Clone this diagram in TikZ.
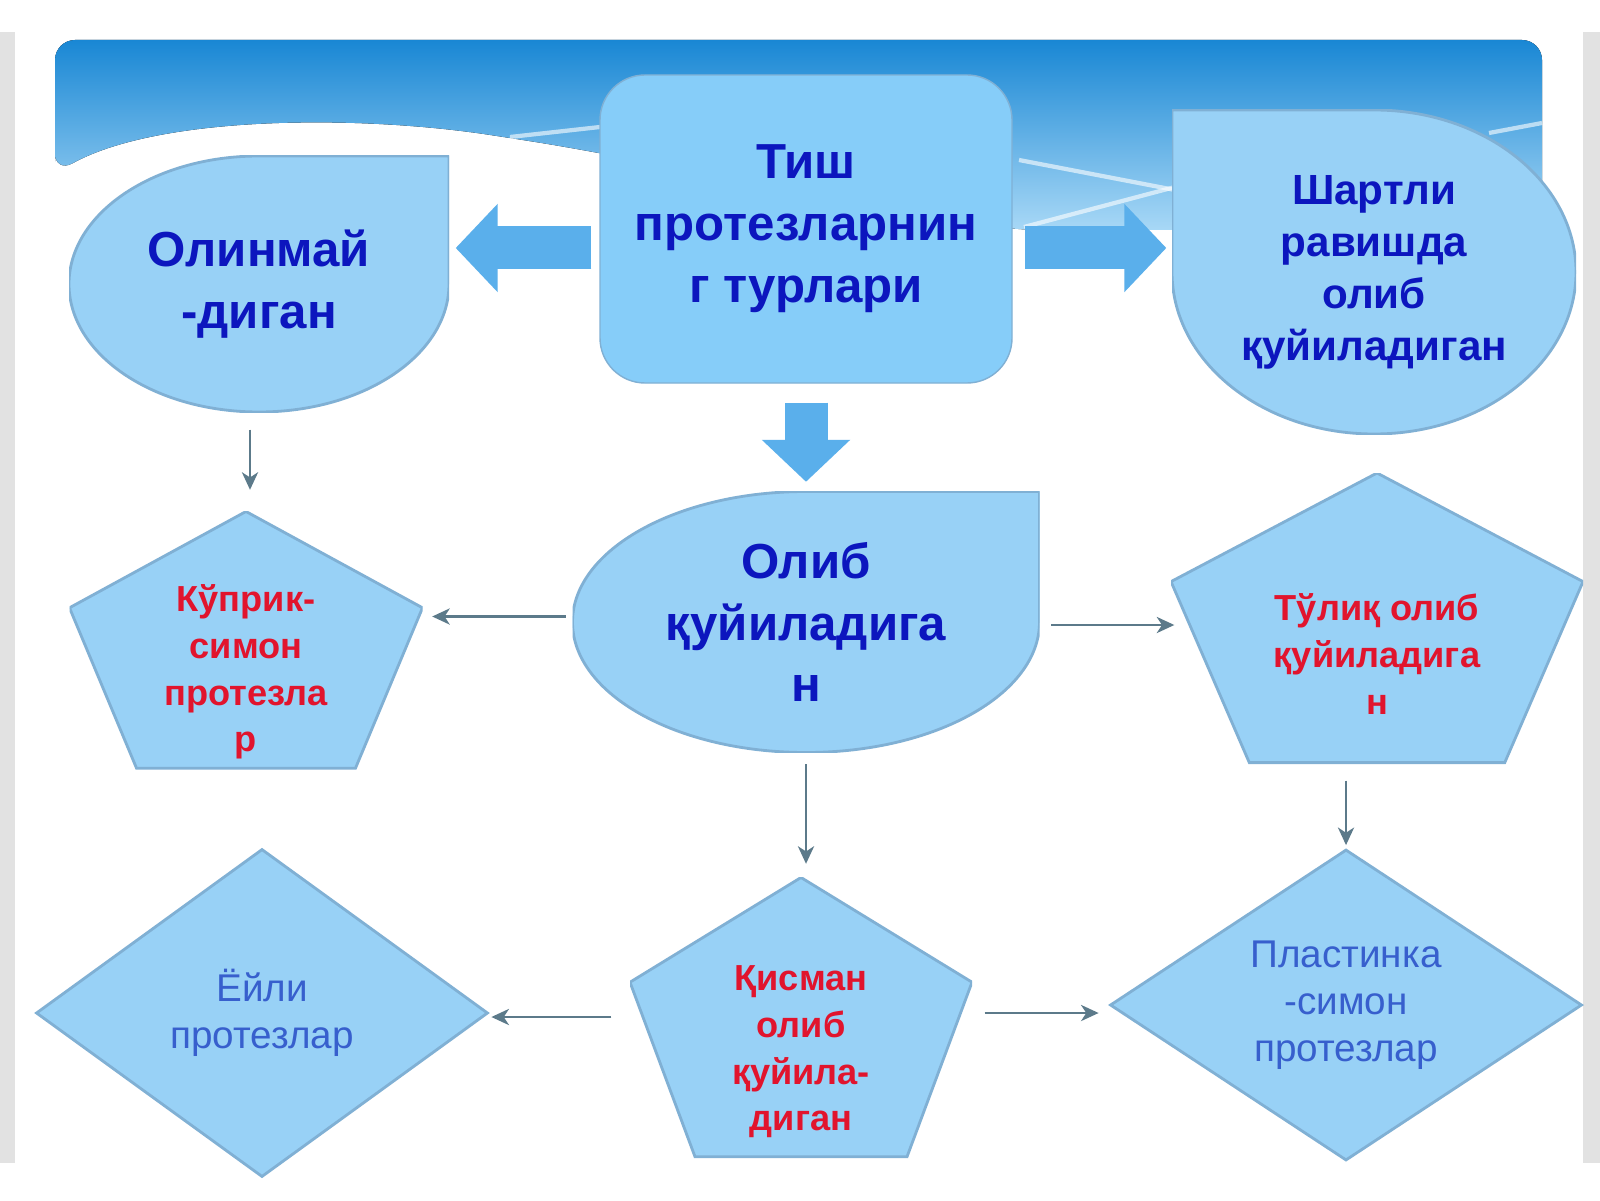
\documentclass[tikz,border=0pt]{standalone}
\usepackage{fontspec}
\setmainfont{Liberation Sans}
\usepackage{tikz}
\usetikzlibrary{positioning}
\usetikzlibrary{shapes.geometric, arrows.meta, calc}

\definecolor{boxfill}{RGB}{152,209,246}
\definecolor{tishfill}{RGB}{134,205,249}
\definecolor{edgecol}{RGB}{128,176,212}
\definecolor{arrowcol}{RGB}{90,175,235}
\definecolor{linecol}{RGB}{92,122,138}
\definecolor{bluetext}{RGB}{12,22,190}
\definecolor{redtext}{RGB}{225,20,45}
\definecolor{softblue}{RGB}{55,95,205}
\definecolor{sidegrey}{RGB}{226,226,226}
\definecolor{bantop}{RGB}{25,135,212}
\definecolor{banbot}{RGB}{168,216,246}

\begin{document}
\begin{tikzpicture}[node distance=2cm]
\tikzstyle{tishbox} = [rectangle, draw=edgecol, fill=tishfill, rounded corners=0.45cm, minimum width=4.12cm, minimum height=3.08cm, inner sep=0pt]
\tikzstyle{drop} = [rectangle, inner sep=0pt, path picture={
  \filldraw[fill=boxfill, draw=edgecol, line width=0.8pt]
  let \p1=(path picture bounding box.north east), \p2=(path picture bounding box.center) in
  (\x2,\y1) -- (\x1,\y1) -- (\x1,\y2) arc[start angle=0, end angle=-270, x radius=\x1-\x2, y radius=\y1-\y2] -- cycle;}]
\tikzstyle{dropl} = [rectangle, inner sep=0pt, path picture={
  \filldraw[fill=boxfill, draw=edgecol, line width=0.8pt]
  let \p1=(path picture bounding box.north west), \p2=(path picture bounding box.center) in
  (\x2,\y1) -- (\x1,\y1) -- (\x1,\y2) arc[start angle=180, end angle=450, x radius=\x2-\x1, y radius=\y1-\y2] -- cycle;}]
\tikzstyle{pent} = [rectangle, inner sep=0pt, path picture={
  \filldraw[fill=boxfill, draw=edgecol, line width=0.8pt]
  let \p1=(path picture bounding box.south west), \p2=(path picture bounding box.north east) in
  ({0.5*\x1+0.5*\x2},\y2) -- (\x2,{0.3*\y1+0.7*\y2}) -- ({0.19*\x1+0.81*\x2},{0.8*\y1+0.2*\y2})
  -- ({0.81*\x1+0.19*\x2},{0.8*\y1+0.2*\y2}) -- (\x1,{0.3*\y1+0.7*\y2}) -- cycle;}]
\tikzstyle{diamondbox} = [diamond, aspect=1.4, draw=edgecol, line width=0.8pt, fill=boxfill, inner sep=0pt]
\tikzstyle{bluebig} = [text=bluetext, font=\fontsize{14}{17.6}\selectfont\bfseries, align=center]
\tikzstyle{bluemid} = [text=bluetext, font=\fontsize{12}{14.8}\selectfont\bfseries, align=center]
\tikzstyle{redtxt} = [text=redtext, font=\fontsize{10.3}{13.3}\selectfont\bfseries, align=center]
\tikzstyle{softtxt} = [text=softblue, font=\fontsize{11}{13.4}\selectfont, align=center]
\tikzstyle{arrow} = [line width=0.7pt, draw=linecol, -{Stealth[length=5pt, width=4.6pt, inset=1.5pt]}]
\tikzstyle{bigarrow} = [draw=arrowcol, line width=0.43cm, -{Triangle[length=0.42cm, width=0.86cm]}]

% background and banner
\useasboundingbox (0,0) rectangle (16,12);
\fill[white] (0,0) rectangle (16,12);
\fill[sidegrey] (0,0.37) rectangle (0.15,11.68);
\fill[sidegrey] (15.83,0.37) rectangle (16,11.68);
\fill[top color=bantop, bottom color=banbot, rounded corners=0.2cm] (0.55,10.27) -- (0.55,11.6) -- (15.42,11.6) -- (15.42,9.7) -- (10.2,9.7)
  .. controls (8.5,9.95) and (6.5,10.4) .. (5.1,10.62) .. controls (3.6,10.85) and (1.6,10.85) .. (0.55,10.27) -- cycle;
\draw[white, opacity=0.6, line width=1.2pt] (5.1,10.63) -- (6.0,10.73);
\draw[white, opacity=0.6, line width=1.2pt] (10.19,10.40) -- (11.75,10.10);
\draw[white, opacity=0.6, line width=1.2pt] (10.24,9.73) -- (11.75,10.13);
\draw[white, opacity=0.6, line width=1.2pt] (14.89,10.67) -- (15.42,10.77);

\node (tish) [tishbox, bluebig] at (8.06,9.71) {Тиш\\протезларнин\\г турлари};
\node (olinmai) [drop, bluebig, minimum width=3.80cm, minimum height=2.56cm, left of=tish, xshift=-3.47cm, yshift=-0.55cm] {Олинмай\\-диган};
\node (shartli) [dropl, bluemid, minimum width=4.04cm, minimum height=3.24cm, right of=tish, xshift=3.68cm, yshift=-0.43cm] {Шартли\\равишда\\олиб\\қуйиладиган};
\node (olib) [drop, bluebig, minimum width=4.67cm, minimum height=2.61cm, below of=tish, yshift=-1.93cm] {Олиб\\қуйиладига\\н};
\node (kuprik) [pent, redtxt, minimum width=3.53cm, minimum height=3.21cm, left of=olib, xshift=-3.60cm, yshift=-0.50cm] {Кўприк-\\симон\\протезла\\р};
\node (tulik) [pent, redtxt, minimum width=4.12cm, minimum height=3.62cm, right of=olib, xshift=3.71cm, yshift=-0.32cm] {Тўлиқ олиб\\қуйиладига\\н};
\node (qisman) [pent, redtxt, minimum width=3.42cm, minimum height=3.49cm, below of=olib, xshift=-0.05cm, yshift=-2.30cm] {Қисман\\олиб\\қуйила-\\диган};
\node (yoyli) [diamondbox, softtxt, minimum width=4.52cm, minimum height=3.28cm, left of=qisman, xshift=-3.39cm, yshift=0.39cm] {Ёйли\\протезлар};
\node (plast) [diamondbox, softtxt, minimum width=4.72cm, minimum height=3.11cm, right of=qisman, xshift=3.45cm, yshift=0.47cm] {Пластинка\\-симон\\протезлар};

\draw [bigarrow] ([xshift=-0.08cm,yshift=-0.19cm]tish.west) -- ([xshift=0.06cm,yshift=-0.19cm]olinmai.east |- tish.west);
\draw [bigarrow] ([xshift=0.12cm,yshift=-0.19cm]tish.east) -- ([xshift=-0.05cm,yshift=-0.19cm]shartli.west |- tish.east);
\draw [bigarrow] ([yshift=-0.19cm]tish.south) -- ([yshift=0.09cm]olib.north);

\draw [arrow] ([xshift=-0.09cm,yshift=-0.17cm]olinmai.south) -- ([xshift=-0.09cm,yshift=0.21cm]olinmai.south |- kuprik.north);
\draw [arrow] ([xshift=-0.06cm,yshift=0.055cm]olib.west) -- ([xshift=0.09cm,yshift=0.055cm]kuprik.east |- olib.west);
\draw [arrow] ([xshift=0.11cm,yshift=-0.03cm]olib.east) -- ([xshift=0.04cm,yshift=-0.03cm]tulik.west |- olib.east);
\draw [arrow] ([yshift=-0.11cm]olib.south) -- ([yshift=0.13cm]olib.south |- qisman.north);
\draw [arrow] ([yshift=0.55cm]tulik.south -| plast.north) -- ([yshift=0.03cm]plast.north);
\draw [arrow] ([xshift=-0.18cm,yshift=-0.04cm]qisman.west |- yoyli.east) -- ([xshift=0.02cm,yshift=-0.04cm]yoyli.east);
\draw [arrow] ([xshift=0.12cm,yshift=-0.08cm]qisman.east |- plast.west) -- ([xshift=-0.10cm,yshift=-0.08cm]plast.west);
\end{tikzpicture}
\end{document}
